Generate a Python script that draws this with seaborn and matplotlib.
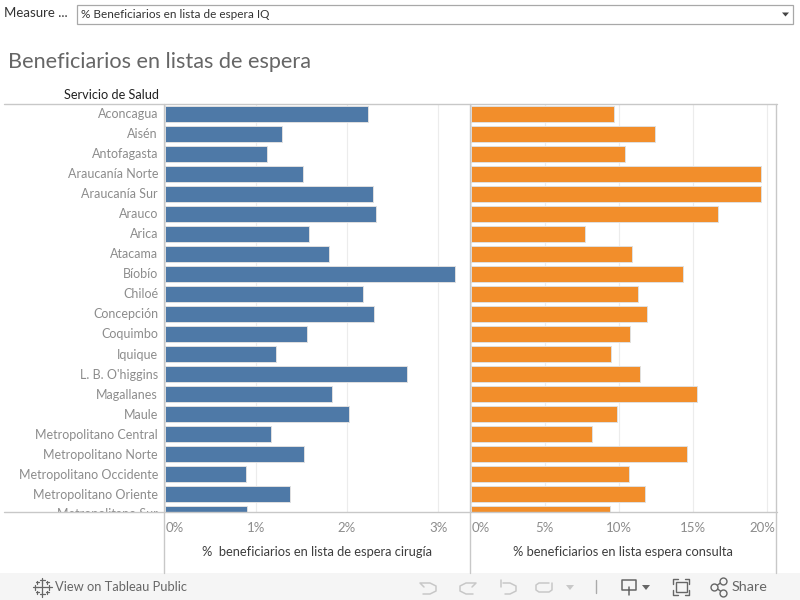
import matplotlib
matplotlib.use("Agg")
import matplotlib.pyplot as plt
import seaborn as sns
import pandas as pd
from matplotlib.lines import Line2D
from matplotlib.patches import Polygon, Rectangle
from matplotlib.transforms import Bbox

servicios = ["Aconcagua", "Aisén", "Antofagasta", "Araucanía Norte", "Araucanía Sur",
             "Arauco", "Arica", "Atacama", "Bíobío", "Chiloé", "Concepción", "Coquimbo",
             "Iquique", "L. B. O'higgins", "Magallanes", "Maule", "Metropolitano Central",
             "Metropolitano Norte", "Metropolitano Occidente", "Metropolitano Oriente",
             "Metropolitano Sur"]
cirugia = [2.23, 1.29, 1.12, 1.52, 2.29, 2.32, 1.58, 1.80, 3.18, 2.18, 2.30, 1.56,
           1.22, 2.66, 1.84, 2.02, 1.17, 1.53, 0.89, 1.38, 0.90]
consulta = [9.67, 12.45, 10.4, 19.6, 19.6, 16.7, 7.7, 10.9, 14.3, 11.3, 11.9, 10.75,
            9.45, 11.45, 15.3, 9.85, 8.2, 14.6, 10.7, 11.75, 9.4]
ticks_cirugia = [0, 1, 2, 3]
ticks_consulta = [0, 5, 10, 15, 20]

W, H = 800, 600
GREY = "#8c8c8c"
DARK = "#3d3d3d"
LINE = "#c8c8c8"

sns.set_theme(style="white")
plt.rcParams["font.family"] = ["Lato", "DejaVu Sans"]

df = pd.DataFrame({"servicio": servicios, "cirugia": cirugia, "consulta": consulta})

fig = plt.figure(figsize=(8, 6), dpi=100, facecolor="white")


def px_axes(x0, x1, y0, y1):
    return fig.add_axes([x0 / W, 1 - y1 / H, (x1 - x0) / W, (y1 - y0) / H])


def ftext(x, y, s, **kw):
    return fig.text(x / W, 1 - y / H, s, **kw)


def fline(xs, ys, color=LINE, lw=1.0, **kw):
    fig.add_artist(Line2D([x / W for x in xs], [1 - y / H for y in ys],
                          transform=fig.transFigure, color=color, lw=lw, **kw))


def panel(ax, col, color, xlim, ticks, offsets, xlabel, label_x):
    sns.barplot(data=df, x=col, y="servicio", orient="h", ax=ax, color=color, saturation=1,
                width=0.82, edgecolor="#e0e0e0", linewidth=0.7, zorder=3)
    ax.set_xlim(0, xlim)
    ax.set_ylim(19.9, -0.5)
    ax.set_xlabel("")
    ax.set_ylabel("")
    ax.set_xticks(ticks)
    ax.set_xticklabels([])
    ax.set_yticks([])
    ax.tick_params(length=0)
    ax.grid(axis="x", color="#ececec", lw=0.8, zorder=0)
    ax.set_axisbelow(True)
    for s in ax.spines.values():
        s.set_visible(False)
    for t, dx in zip(ticks, offsets):
        ax.annotate(f"{t}%", (t, 0), xycoords=("data", "axes fraction"), xytext=(dx, -16),
                    textcoords="offset pixels", ha="center", va="center", color=GREY, fontsize=9.5)
    ftext(label_x, 552.5, xlabel, ha="center", va="center", color=DARK, fontsize=9.3)


ax1 = px_axes(164.5, 470, 104, 512)
ax2 = px_axes(470.5, 777, 104, 512)
panel(ax1, "cirugia", "#4e79a7", 305.5 / 91.2, ticks_cirugia, [10, 0, 0, 0],
      "%  beneficiarios en lista de espera cirugía", 316.5)
panel(ax2, "consulta", "#f28e2b", 306.5 / 14.83, ticks_consulta, [10, 0, 0, 0, -5],
      "% beneficiarios en lista espera consulta", 622.5)

# row labels, the last one is cut by the pane edge
clip = Bbox([[0, H - 512], [W, H - 104]])
for i, name in enumerate(servicios):
    t = ax1.annotate(name, (0, i), xycoords=("axes fraction", "data"), xytext=(-6.5, -0.5),
                     textcoords="offset pixels", ha="right", va="center", color=GREY, fontsize=9,
                     annotation_clip=False)
    t.set_clip_box(clip)
    t.set_clip_on(True)

# frame lines
fline([4, 776.5], [103.5, 103.5])
fline([4, 776.5], [511.5, 511.5])
for x in [163.8, 469.8, 775.8]:
    fline([x, x], [103.5, 573])

# header and filter
ftext(159, 95, "Servicio de Salud", ha="right", va="center", color="#222222", fontsize=9.2)
ftext(8, 61.5, "Beneficiarios en listas de espera", ha="left", va="center", color="#666666",
      fontsize=15.6)
ftext(4, 13, "Measure ...", ha="left", va="center", color="#333333", fontsize=9.5)
fig.add_artist(Rectangle((77 / W, 1 - 23.5 / H), 716 / W, 19 / H, transform=fig.transFigure,
                         facecolor="white", edgecolor="#a8a8a8", lw=0.9))
ftext(81, 14, "% Beneficiarios en lista de espera IQ", ha="left", va="center", color="#333333",
      fontsize=8.5)
fig.add_artist(Polygon([(782 / W, 1 - 12.5 / H), (789 / W, 1 - 12.5 / H), (785.5 / W, 1 - 16.5 / H)],
                       transform=fig.transFigure, facecolor="#444444", edgecolor="none"))

# toolbar strip
fig.add_artist(Rectangle((0, 0), 1, 27 / H, transform=fig.transFigure, facecolor="#f5f5f5",
                         edgecolor="none"))
ftext(55, 587, "View on Tableau Public", ha="left", va="center", color="#666666", fontsize=9.3)
ftext(732, 587, "Share", ha="left", va="center", color="#666666", fontsize=10.4)

# tableau logo
dk = "#666666"
for cx, cy, r in [(42, 587, 5), (42, 580, 2.5), (42, 594, 2.5), (35, 587, 2.5), (49, 587, 2.5),
                  (37, 582, 1.5), (47, 582, 1.5), (37, 592, 1.5), (47, 592, 1.5)]:
    fline([cx - r, cx + r], [cy, cy], color=dk, lw=0.9)
    fline([cx, cx], [cy - r, cy + r], color=dk, lw=0.9)

# undo / redo / revert / refresh icons
soft = "#c8c8c8"
fline([424, 420, 430, 436, 436, 430, 423], [587, 583, 583, 586, 591, 594, 594], color=soft, lw=1.1)
fline([472, 476, 466, 460, 460, 466, 473], [587, 583, 583, 586, 591, 594, 594], color=soft, lw=1.1)
fline([501, 501], [580, 587], color=soft, lw=1.1)
fline([503, 510, 516, 516, 510, 505], [583, 583, 586, 591, 594, 594], color=soft, lw=1.1)
fline([552, 552, 549, 539, 536, 536, 539, 549], [583, 590, 592, 592, 590, 585, 583, 583], color=soft, lw=1.1)
fig.add_artist(Polygon([(566 / W, 1 - 585 / H), (574 / W, 1 - 585 / H), (570 / W, 1 - 590 / H)],
                       transform=fig.transFigure, facecolor=soft, edgecolor="none"))
fline([595.5, 595.5], [580, 593], color="#aaaaaa", lw=1)

# download icon
fline([629, 622, 622, 636, 636, 629], [590, 590, 580, 580, 590, 590], color=dk, lw=1.1)
fline([629, 629], [587, 595], color=dk, lw=1.1)
fig.add_artist(Polygon([(642 / W, 1 - 585 / H), (650 / W, 1 - 585 / H), (646 / W, 1 - 590 / H)],
                       transform=fig.transFigure, facecolor=dk, edgecolor="none"))

# fullscreen icon
fig.add_artist(Rectangle((676 / W, 1 - 592 / H), 11 / W, 10 / H, transform=fig.transFigure,
                         facecolor="none", edgecolor=dk, lw=1.0))
for xs, ys in [([673, 673, 678], [584, 579, 579]), ([685, 689, 689], [579, 579, 584]),
               ([673, 673, 678], [590, 595, 595]), ([685, 689, 689], [595, 595, 590])]:
    fline(xs, ys, color=dk, lw=1.0)

# share icon
fline([715, 723], [587, 581], color=dk, lw=1)
fline([715, 723], [587, 593], color=dk, lw=1)
for cx, cy in [(714, 587), (723, 581), (723, 593)]:
    fig.add_artist(Line2D([cx / W], [1 - cy / H], transform=fig.transFigure, marker="o", ms=5,
                          mfc="#f5f5f5", mec=dk, mew=1, ls="none"))

fig.savefig("out.png", dpi=100)
